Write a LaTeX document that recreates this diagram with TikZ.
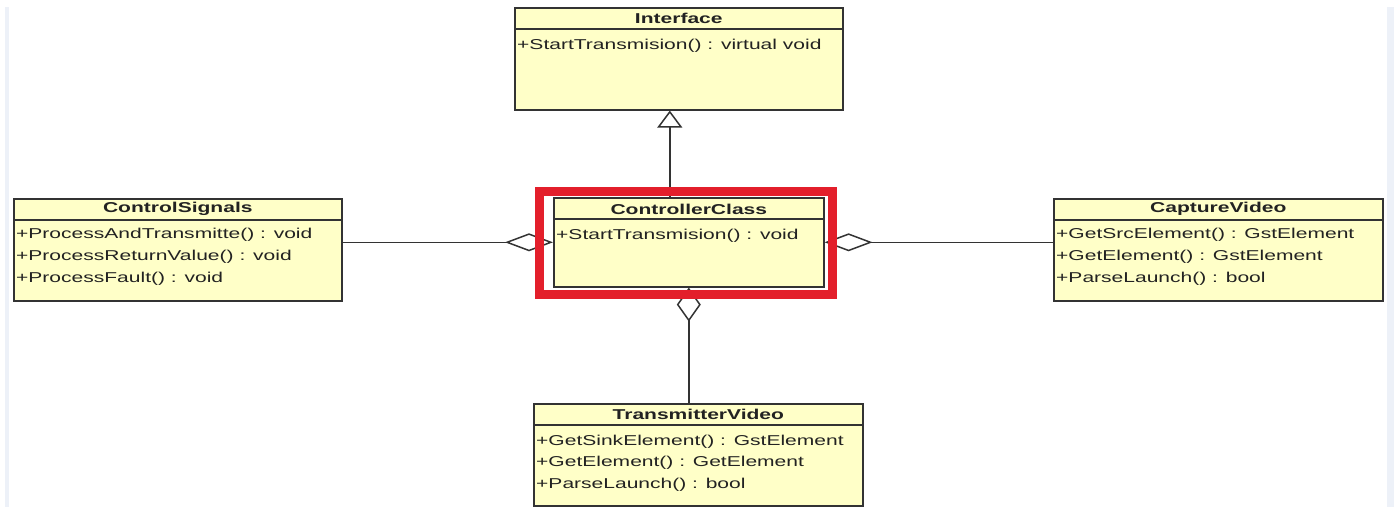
\documentclass[tikz,border=0pt]{standalone}
\usepackage{fontspec}
\newfontfamily\umlfont[FakeStretch=1.47]{Liberation Sans}
\usetikzlibrary{arrows.meta}
\definecolor{classfill}{HTML}{FFFFC8}
\definecolor{classline}{HTML}{333333}
\definecolor{textgray}{HTML}{222222}
\definecolor{framered}{HTML}{E31F2B}
\definecolor{stripblue}{HTML}{EDF1F8}

\begin{document}
\begin{tikzpicture}[x=1pt,y=-1pt,
  umlclass/.style={draw=classline, fill=classfill, line width=1.6pt, rectangle,
    inner sep=0pt, anchor=north west},
  classtitle/.style={font=\umlfont\bfseries\fontsize{14.3}{16}\selectfont,
    text=textgray, inner sep=0pt},
  member/.style={font=\umlfont\fontsize{14.3}{16}\selectfont, text=textgray,
    inner sep=0pt, anchor=mid west},
  conn/.style={draw=classline, line width=1.5pt},
  aggr/.style={conn, {Diamond[open, length=48pt, width=18pt]}-},
  aggrv/.style={conn, {Diamond[open, length=34pt, width=24pt]}-},
  realize/.style={conn, -{Triangle[open, length=17pt, width=25pt]}},
  header/.style={draw=classline, line width=1.5pt}
]
% canvas and side strips
\fill[white] (0,0) rectangle (1397,508);
\useasboundingbox (0,0) rectangle (1397,508);
\fill[stripblue] (5,7) rectangle (9,507);
\fill[stripblue] (1387,7) rectangle (1394,507);

% class boxes
\node[umlclass, minimum width=328pt, minimum height=102pt] (iface) at (514,7) {};
\node[umlclass, minimum width=328pt, minimum height=102pt] (cs) at (13,198) {};
\node[umlclass, minimum width=270pt, minimum height=89pt] (ctrl) at (553,197) {};
\node[umlclass, minimum width=329pt, minimum height=102pt] (cap) at (1053,198) {};
\node[umlclass, minimum width=329pt, minimum height=102pt] (tv) at (533,403) {};

% header separators
\foreach \c in {iface,cs,ctrl,cap,tv}
  \draw[header] ([yshift=-22pt]\c.north west) -- ([yshift=-22pt]\c.north east);

% titles
\node[classtitle] (ifacet) at ([yshift=-11pt]iface.north) {Interface};
\node[classtitle] (cst) at ([yshift=-11pt]cs.north) {ControlSignals};
\node[classtitle] (ctrlt) at ([yshift=-12pt]ctrl.north) {ControllerClass};
\node[classtitle] (capt) at ([yshift=-11pt]cap.north) {CaptureVideo};
\node[classtitle] (tvt) at ([yshift=-11pt]tv.north) {TransmitterVideo};

% members
\node[member] (ifacem1) at ([xshift=3pt,yshift=-40pt]iface.north west) {+StartTransmision() : virtual void};

\node[member] (csm1) at ([xshift=3pt,yshift=-38pt]cs.north west) {+ProcessAndTransmitte() : void};
\node[member] (csm2) at ([xshift=3pt,yshift=-60pt]cs.north west) {+ProcessReturnValue() : void};
\node[member] (csm3) at ([xshift=3pt,yshift=-82pt]cs.north west) {+ProcessFault() : void};

\node[member] (ctrlm1) at ([xshift=3pt,yshift=-40pt]ctrl.north west) {+StartTransmision() : void};

\node[member] (capm1) at ([xshift=3pt,yshift=-38pt]cap.north west) {+GetSrcElement() : GstElement};
\node[member] (capm2) at ([xshift=3pt,yshift=-60pt]cap.north west) {+GetElement() : GstElement};
\node[member] (capm3) at ([xshift=3pt,yshift=-82pt]cap.north west) {+ParseLaunch() : bool};

\node[member] (tvm1) at ([xshift=3pt,yshift=-40pt]tv.north west) {+GetSinkElement() : GstElement};
\node[member] (tvm2) at ([xshift=3pt,yshift=-61pt]tv.north west) {+GetElement() : GetElement};
\node[member] (tvm3) at ([xshift=3pt,yshift=-83pt]tv.north west) {+ParseLaunch() : bool};

% relations
\draw[realize] ([xshift=-19pt]ctrl.north) -- ([xshift=-19pt]ctrl.north |- iface.south);
\draw[aggr] (ctrl.west) -- (ctrl.west -| cs.east);
\draw[aggr] (ctrl.east) -- (ctrl.east -| cap.west);
\draw[aggrv] (ctrl.south) -- (ctrl.south |- tv.north);

% highlight frame around the controller
\draw[framered, line width=9pt]
  ([shift={(-13.5pt,5.5pt)}]ctrl.north west) rectangle ([shift={(7.5pt,-7pt)}]ctrl.south east);
\end{tikzpicture}
\end{document}
